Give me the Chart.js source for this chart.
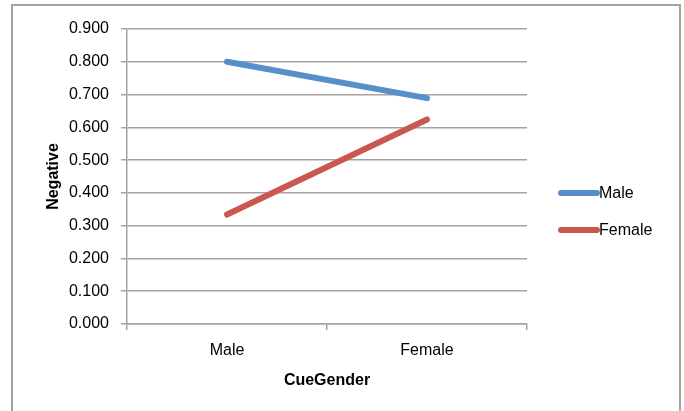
<!DOCTYPE html>
<html lang="en">
<head>
  <meta charset="UTF-8" />
  <title>Negative by CueGender</title>
  <script src="https://cdn.jsdelivr.net/npm/chart.js"></script>
  <style>
    body {
      margin: 0;
      background: #ffffff;
    }
    .wrap {
      position: relative;
      width: 684px;
      height: 411px;
    }
  </style>
</head>
<body>
  <div class="wrap">
    <canvas id="grafico" width="684" height="411"></canvas>
  </div>

  <script>
    // datos
    const categorias = ['Male', 'Female'];
    const serieMale = [0.800, 0.689];
    const serieFemale = [0.334, 0.624];
    const nombresSeries = ['Male', 'Female'];
    const coloresSeries = ['#568fcc', '#cb5850'];

    const gris = '#a3a3a3';
    const fuente = "'Liberation Sans', Arial, sans-serif";

    // marco gris alrededor (sin borde inferior, como en el original)
    const marco = {
      id: 'marco',
      beforeDraw(chart) {
        const ctx = chart.ctx;
        ctx.save();
        ctx.strokeStyle = gris;
        ctx.lineWidth = 2;
        ctx.beginPath();
        ctx.moveTo(12, 420);
        ctx.lineTo(12, 5);
        ctx.lineTo(680, 5);
        ctx.lineTo(680, 420);
        ctx.stroke();
        ctx.restore();
      }
    };

    // leyenda a la derecha con muestra de línea gruesa
    const leyenda = {
      id: 'leyenda',
      afterDraw(chart) {
        const ctx = chart.ctx;
        ctx.save();
        ctx.font = '16px ' + fuente;
        ctx.textBaseline = 'middle';
        chart.data.datasets.forEach((ds, i) => {
          const y = 193 + i * 37;
          ctx.strokeStyle = ds.borderColor;
          ctx.lineWidth = 6;
          ctx.lineCap = 'round';
          ctx.beginPath();
          ctx.moveTo(561, y);
          ctx.lineTo(597, y);
          ctx.stroke();
          ctx.fillStyle = '#000';
          ctx.fillText(ds.label, 599, y + 1);
        });
        ctx.restore();
      }
    };

    const ctx = document.getElementById('grafico').getContext('2d');
    new Chart(ctx, {
      type: 'line',
      data: {
        labels: categorias,
        datasets: [
          {
            label: nombresSeries[0],
            data: serieMale,
            borderColor: coloresSeries[0],
            backgroundColor: coloresSeries[0],
            borderWidth: 6,
            borderCapStyle: 'round',
            pointRadius: 0,
            pointHoverRadius: 0
          },
          {
            label: nombresSeries[1],
            data: serieFemale,
            borderColor: coloresSeries[1],
            backgroundColor: coloresSeries[1],
            borderWidth: 6,
            borderCapStyle: 'round',
            pointRadius: 0,
            pointHoverRadius: 0
          }
        ]
      },
      options: {
        responsive: false,
        animation: false,
        layout: {
          padding: { left: 0, right: 157, top: 29, bottom: 20.6 }
        },
        plugins: {
          legend: { display: false },
          tooltip: { enabled: false }
        },
        scales: {
          x: {
            offset: true,
            grid: {
              offset: true,
              drawOnChartArea: false,
              drawTicks: true,
              tickLength: 6,
              color: gris,
              lineWidth: 1.5
            },
            border: { color: gris, width: 1.5 },
            ticks: {
              color: '#000',
              padding: 11,
              font: { family: fuente, size: 16 }
            },
            title: {
              display: true,
              text: 'CueGender',
              color: '#000',
              padding: { top: 0, bottom: 0 },
              font: { family: fuente, size: 16, weight: 'bold' }
            }
          },
          y: {
            min: 0,
            max: 0.9,
            afterFit(scale) {
              scale.width = 127;
            },
            grid: {
              color: gris,
              lineWidth: 1.5,
              tickLength: 6
            },
            border: { color: gris, width: 1.5 },
            ticks: {
              stepSize: 0.1,
              color: '#000',
              padding: 12,
              font: { family: fuente, size: 16 },
              callback: v => Number(v).toFixed(3)
            },
            title: {
              display: true,
              text: 'Negative',
              color: '#000',
              padding: { top: 44, bottom: 0 },
              font: { family: fuente, size: 16, weight: 'bold' }
            }
          }
        }
      },
      plugins: [marco, leyenda]
    });
  </script>
</body>
</html>
